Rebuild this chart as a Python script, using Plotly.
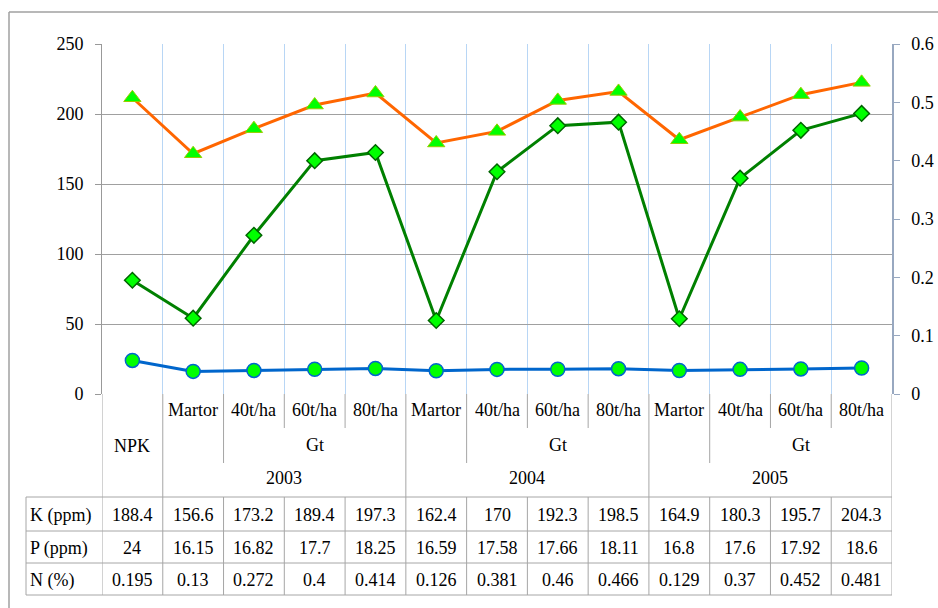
import plotly.graph_objects as go

# ---------------- data ----------------
treatments = ["NPK", "Martor", "40t/ha", "60t/ha", "80t/ha",
              "Martor", "40t/ha", "60t/ha", "80t/ha",
              "Martor", "40t/ha", "60t/ha", "80t/ha"]
subgroups = [None, None, "Gt", "Gt", "Gt", None, "Gt", "Gt", "Gt", None, "Gt", "Gt", "Gt"]
years = [None, "2003", "2003", "2003", "2003", "2004", "2004", "2004", "2004",
         "2005", "2005", "2005", "2005"]

row_names = ["K (ppm)", "P (ppm)", "N (%)"]
K_table = [188.4, 156.6, 173.2, 189.4, 197.3, 162.4, 170, 192.3, 198.5, 164.9, 180.3, 195.7, 204.3]
P_table = [24, 16.15, 16.82, 17.7, 18.25, 16.59, 17.58, 17.66, 18.11, 16.8, 17.6, 17.92, 18.6]
N_table = [0.195, 0.13, 0.272, 0.4, 0.414, 0.126, 0.381, 0.46, 0.466, 0.129, 0.37, 0.452, 0.481]
# K line as drawn in the picture (its plotted heights differ from the table values)
K_line = [211.6, 171.6, 189.5, 206.4, 215.0, 179.3, 187.6, 209.7, 216.1, 181.6, 197.8, 213.8, 222.6]

left_ticks = [0, 50, 100, 150, 200, 250]
right_ticks = [0, 0.1, 0.2, 0.3, 0.4, 0.5, 0.6]

# ---------------- layout geometry (pixels) ----------------
W, H = 938, 608
PL, PR, PT, PB = 102, 892, 44, 394
FONT = "Liberation Serif"
FS = 18
GRID = "#a0a0a0"
TABLE_LINE = "#a6a6a6"


def px(xpix):
    return (xpix - PL) / (PR - PL)


def py(ypix):
    return (PB - ypix) / (PB - PT)


n = len(treatments)
xs = list(range(n))

fig = go.Figure()

fig.add_trace(go.Scatter(
    x=xs, y=P_table, name="P (ppm)", mode="lines+markers", yaxis="y",
    line=dict(color="#0066CC", width=3),
    marker=dict(symbol="circle", size=14, color="#00FF00",
                line=dict(color="#0066CC", width=1.5)),
))
fig.add_trace(go.Scatter(
    x=xs, y=K_line, name="K (ppm)", mode="lines+markers", yaxis="y",
    line=dict(color="#FF6600", width=3),
    marker=dict(symbol="triangle-up", size=15, color="#00FF00",
                line=dict(color="#99CC00", width=1)),
))
fig.add_trace(go.Scatter(
    x=xs, y=N_table, name="N (%)", mode="lines+markers", yaxis="y2",
    line=dict(color="#008000", width=3),
    marker=dict(symbol="diamond", size=12, color="#00FF00",
                line=dict(color="#006400", width=1.5)),
))

shapes = []
annotations = []


def hline(x0p, x1p, ypix, color=TABLE_LINE, width=1):
    shapes.append(dict(type="line", xref="paper", yref="paper",
                       x0=px(x0p), x1=px(x1p), y0=py(ypix), y1=py(ypix),
                       line=dict(color=color, width=width)))


def vline_data(xd, y0pix, y1pix, color=TABLE_LINE, width=1):
    shapes.append(dict(type="line", xref="x", yref="paper",
                       x0=xd, x1=xd, y0=py(y0pix), y1=py(y1pix),
                       line=dict(color=color, width=width)))


def text(xd, ypix, s, xref="x", xanchor="center"):
    annotations.append(dict(x=xd, y=py(ypix), xref=xref, yref="paper", text=s,
                            showarrow=False, xanchor=xanchor, yanchor="middle",
                            font=dict(family=FONT, size=FS, color="black")))


# outer frame (top and left edges visible)
hline(9, 945, 12, color="#a0a0a0", width=1.5)
shapes.append(dict(type="line", xref="paper", yref="paper",
                   x0=px(9), x1=px(9), y0=py(12), y1=py(615),
                   line=dict(color="#a0a0a0", width=1.5)))

# ---- multi-level category header ----
ROW1, ROW2, ROW3 = 410, 445, 478
HDR_TOP, HDR_BOT = PB, 497
for i, t in enumerate(treatments):
    if years[i] is None and subgroups[i] is None:
        text(i, (HDR_TOP + HDR_BOT) / 2, t)
    else:
        text(i, ROW1, t)


def spans(labels):
    out = []
    i = 0
    while i < len(labels):
        j = i
        while j + 1 < len(labels) and labels[j + 1] == labels[i]:
            j += 1
        if labels[i] is not None:
            out.append((i, j, labels[i]))
        i = j + 1
    return out


for (a, b, lab) in spans(subgroups):
    text((a + b) / 2, ROW2, lab)
for (a, b, lab) in spans(years):
    text((a + b) / 2, ROW3, lab)

# separators in the header
vline_data(-0.5, HDR_TOP, HDR_BOT)
vline_data(n - 0.5, HDR_TOP, HDR_BOT)
for i in range(n - 1):
    bd = i + 0.5
    if years[i] != years[i + 1] or years[i] is None:
        vline_data(bd, HDR_TOP, HDR_BOT)
    elif subgroups[i] != subgroups[i + 1] or subgroups[i] is None:
        vline_data(bd, HDR_TOP, 463)
    else:
        vline_data(bd, HDR_TOP, 428)

# ---- data table ----
TBL_LEFT = 26
row_lines = [497, 531, 563, 595]
for yl in row_lines:
    hline(TBL_LEFT, PR, yl)
shapes.append(dict(type="line", xref="paper", yref="paper",
                   x0=px(TBL_LEFT), x1=px(TBL_LEFT), y0=py(row_lines[0]), y1=py(row_lines[-1]),
                   line=dict(color=TABLE_LINE, width=1)))
for i in range(n + 1):
    vline_data(i - 0.5, row_lines[0], row_lines[-1])

for r, (name, vals) in enumerate(zip(row_names, [K_table, P_table, N_table])):
    yc = (row_lines[r] + row_lines[r + 1]) / 2 + 1
    annotations.append(dict(x=px(TBL_LEFT + 2), y=py(yc), xref="paper", yref="paper",
                            text=name, showarrow=False, xanchor="left", yanchor="middle",
                            font=dict(family=FONT, size=FS, color="black")))
    for i, v in enumerate(vals):
        text(i, yc, f"{v:g}")

fig.update_layout(
    width=W, height=H,
    margin=dict(l=PL, r=W - PR, t=PT, b=H - PB, pad=0, autoexpand=False),
    paper_bgcolor="white", plot_bgcolor="white",
    showlegend=False,
    font=dict(family=FONT, size=FS, color="black"),
    xaxis=dict(range=[-0.5, n - 0.5], tickmode="array",
               tickvals=[i - 0.5 for i in range(n + 1)], ticktext=[""] * (n + 1),
               showticklabels=False, ticks="", showgrid=True, gridcolor="#b8d6f5",
               gridwidth=1, zeroline=False, showline=False, fixedrange=True),
    yaxis=dict(range=[0, 250], tickmode="array", tickvals=left_ticks,
               ticktext=[f"{v:g}" for v in left_ticks],
               showgrid=True, gridcolor=GRID, gridwidth=1, zeroline=False,
               showline=True, linecolor="#999999", linewidth=1,
               ticks="outside", ticklen=6, tickcolor="#999999", ticklabelstandoff=8,
               tickfont=dict(family=FONT, size=FS, color="black")),
    yaxis2=dict(range=[0, 0.6], overlaying="y", side="right", tickmode="array",
                tickvals=right_ticks, ticktext=[f"{v:g}" for v in right_ticks],
                showgrid=False, zeroline=False,
                showline=True, linecolor="#98a8c0", linewidth=1.5,
                ticks="outside", ticklen=6, tickcolor="#98a8c0", ticklabelstandoff=8,
                tickfont=dict(family=FONT, size=FS, color="black")),
    shapes=shapes,
    annotations=annotations,
)

fig.write_html("out.html", config={"displayModeBar": False},
               post_script="document.body.style.margin='0';")
